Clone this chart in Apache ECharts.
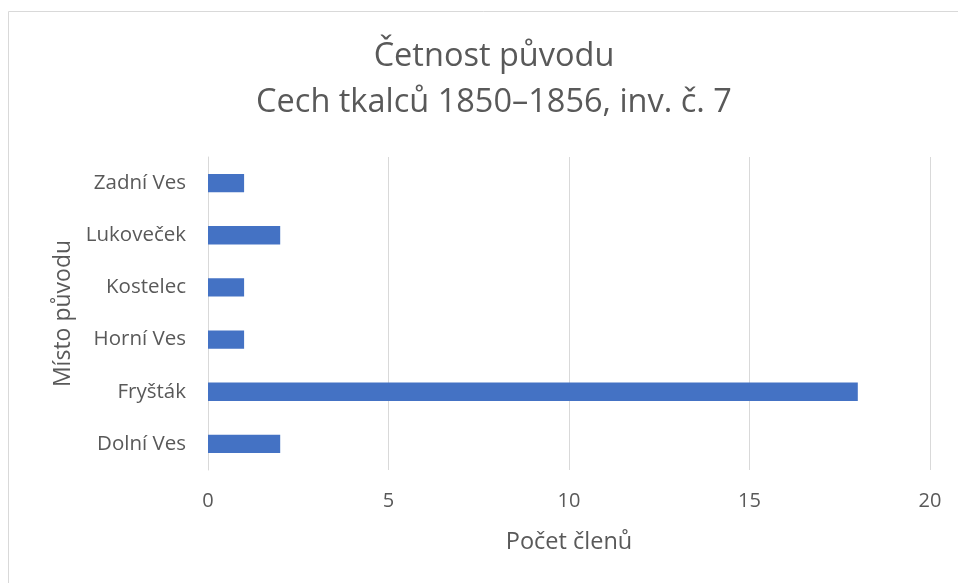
<!DOCTYPE html>
<html><head><meta charset="utf-8">
<script src="https://cdn.jsdelivr.net/npm/echarts@6/dist/echarts.min.js"></script>
<style>html,body{margin:0;padding:0;background:#fff}#c{width:958px;height:583px}</style>
</head><body><div id="c"></div>
<script>
const categories = ["Dolní Ves", "Fryšták", "Horní Ves", "Kostelec", "Lukoveček", "Zadní Ves"];
const values = [2, 18, 1, 1, 2, 1];
const titleLines = ["Četnost původu", "Cech tkalců 1850–1856, inv. č. 7"];
const xAxisName = "Počet členů";
const yAxisName = "Místo původu";

const font = "Open Sans";
const chart = echarts.init(document.getElementById('c'));
chart.setOption({
  animation: false,
  graphic: [{type: 'rect', shape: {x: 8.5, y: 11.5, width: 1000, height: 1000}, style: {fill: 'none', stroke: '#d9d9d9', lineWidth: 1}, z: -10}],
  title: {
    text: titleLines.join('\n'), left: 489, textAlign: 'center', top: 29,
    textStyle: {fontFamily: font, fontSize: 32.5, fontWeight: 'normal', color: '#595959', lineHeight: 46}
  },
  grid: {left: 208, right: 28, top: 157, bottom: 113},
  xAxis: {
    type: 'value', min: 0, max: 20, interval: 5,
    name: xAxisName, nameLocation: 'middle', nameGap: 60,
    nameTextStyle: {fontFamily: font, fontSize: 23.5, color: '#595959'},
    axisLine: {show: false}, axisTick: {show: false},
    axisLabel: {fontFamily: font, fontSize: 20, color: '#595959', margin: 21},
    splitLine: {lineStyle: {color: '#d9d9d9', width: 1}}
  },
  yAxis: {
    type: 'category', data: categories,
    name: yAxisName, nameLocation: 'middle', nameGap: 133, nameRotate: 90,
    nameTextStyle: {fontFamily: font, fontSize: 23, color: '#595959'},
    axisLine: {lineStyle: {color: '#d9d9d9', width: 1}}, axisTick: {show: false},
    axisLabel: {fontFamily: font, fontSize: 20.5, color: '#595959', margin: 22}
  },
  series: [{type: 'bar', data: values, barWidth: '35%', itemStyle: {color: '#4472c4'}}]
});
</script></body></html>
